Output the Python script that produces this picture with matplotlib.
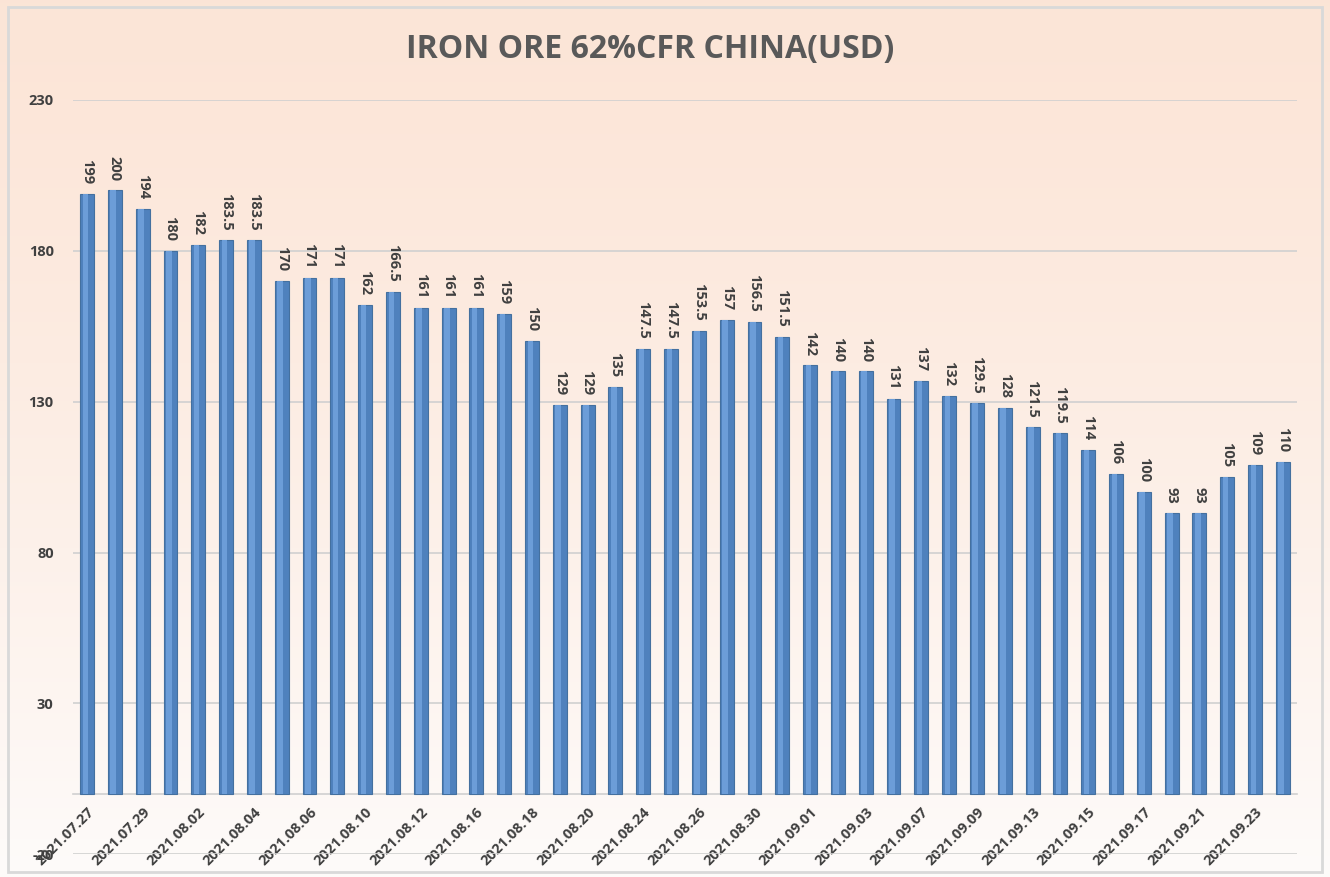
import numpy as np
import matplotlib.pyplot as plt
from matplotlib.patches import Rectangle

plt.rcParams['font.family'] = ['Open Sans', 'DejaVu Sans']

prices = [199, 200, 194, 180, 182, 183.5, 183.5, 170, 171, 171, 162, 166.5,
          161, 161, 161, 159, 150, 129, 129, 135, 147.5, 147.5, 153.5, 157,
          156.5, 151.5, 142, 140, 140, 131, 137, 132, 129.5, 128, 121.5, 119.5,
          114, 106, 100, 93, 93, 105, 109, 110]
date_labels = ['2021.07.27', '2021.07.29', '2021.08.02', '2021.08.04', '2021.08.06',
               '2021.08.10', '2021.08.12', '2021.08.16', '2021.08.18', '2021.08.20',
               '2021.08.24', '2021.08.26', '2021.08.30', '2021.09.01', '2021.09.03',
               '2021.09.07', '2021.09.09', '2021.09.13', '2021.09.15', '2021.09.17',
               '2021.09.21', '2021.09.23']
y_ticks = [-20, 30, 80, 130, 180, 230]

txt = '#404040'

fig = plt.figure(figsize=(13.3, 8.77), dpi=100)

# background gradient (peach at top fading to white)
bg = fig.add_axes([0, 0, 1, 1], zorder=-10)
grad = np.linspace(0, 1, 256).reshape(-1, 1)
c_top = np.array([0.988, 0.898, 0.843])
c_bot = np.array([0.995, 0.985, 0.98])
img = c_top + (c_bot - c_top) * grad[..., None] ** 1.3
bg.imshow(img, aspect='auto', extent=[0, 1, 0, 1])
bg.axis('off')
fig.patches.append(Rectangle((0.006, 0.006), 0.988, 0.986, transform=fig.transFigure,
                             fill=False, edgecolor='#D9D9D9', lw=2))

ax = fig.add_axes([0.055, 0.026, 0.92, 0.86])
ax.set_facecolor('none')
ax.spines['bottom'].set_position(('data', 0))

x = np.arange(len(prices))
ax.bar(x, prices, width=0.5, color='#4F81BD', edgecolor='#44709F', lw=0.8, zorder=3)
# lighter stripe to fake the cylinder shading
ax.bar(x - 0.06, prices, width=0.2, color='#6C9DD8', lw=0, zorder=4)

for xi, v in zip(x, prices):
    ax.annotate(f'{v:g}', (xi, v), xytext=(0, 7), textcoords='offset points',
                rotation=-90, ha='center', va='bottom', fontsize=10.5,
                fontweight='bold', color=txt)

ax.set_xlim(-0.5, len(prices) - 0.5)
ax.set_ylim(-20, 230)
ax.set_yticks(y_ticks)
ax.set_yticklabels([str(t) for t in y_ticks], fontsize=10.5, fontweight='bold', color=txt)
ax.yaxis.grid(True, color='#D0D0D0', lw=1.2, zorder=0)
ax.tick_params(axis='y', length=0, pad=14)

ax.set_xticks(x[::2])
ax.set_xticklabels(date_labels, rotation=45, ha='right', rotation_mode='anchor',
                   fontsize=10.5, fontweight='bold', color=txt)
ax.tick_params(axis='x', length=0, pad=8)
for s in ['top', 'right', 'left']:
    ax.spines[s].set_visible(False)
ax.spines['bottom'].set_color('#D0D0D0')
ax.spines['bottom'].set_linewidth(1.2)

fig.text(0.489, 0.943, 'IRON ORE 62%CFR CHINA(USD)', ha='center', va='center',
         fontsize=23, fontweight='bold', color='#595959')

fig.savefig('out.png', dpi=100)
